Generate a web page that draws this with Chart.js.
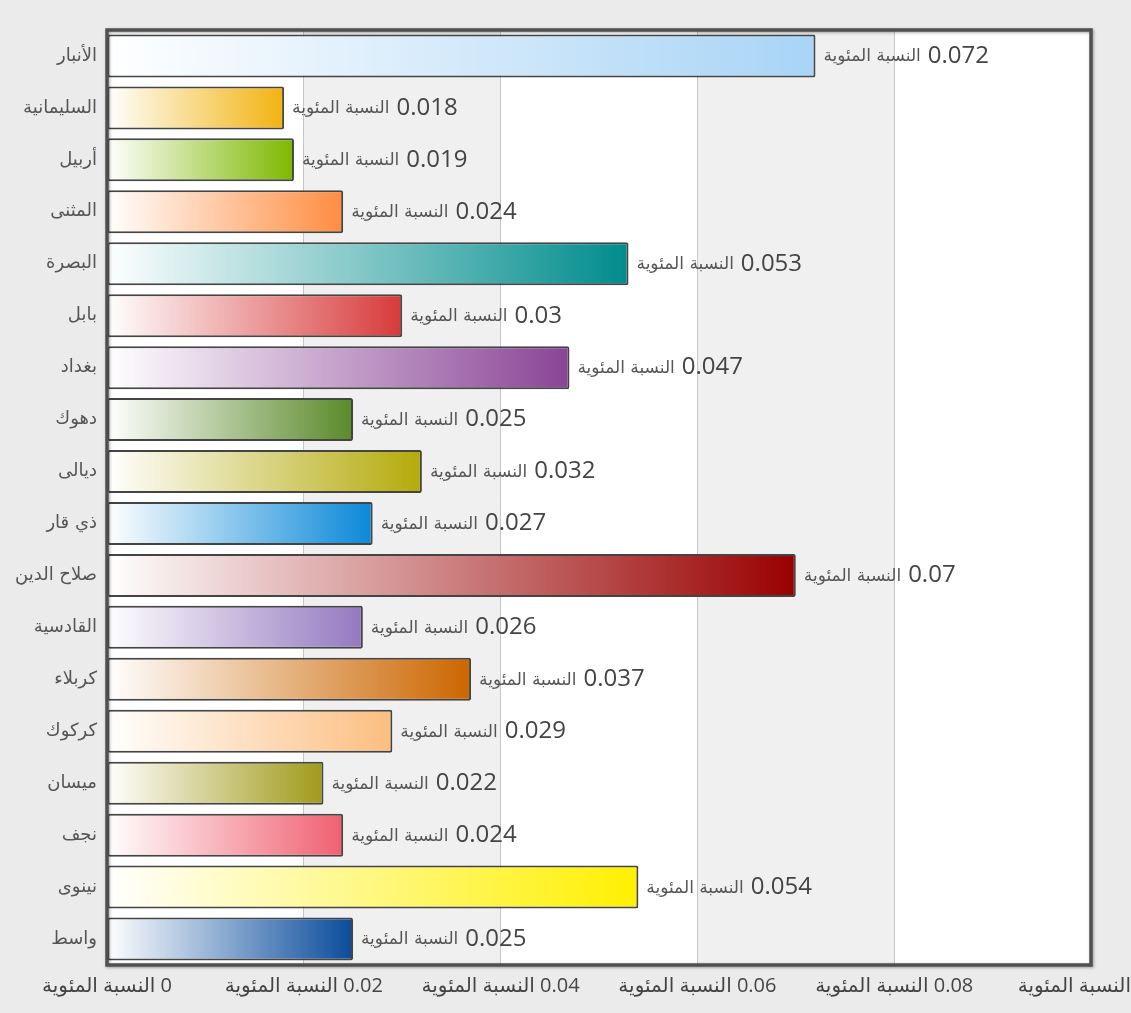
<!DOCTYPE html>
<html><head><meta charset="utf-8">
<script src="https://cdn.jsdelivr.net/npm/chart.js@4/dist/chart.umd.min.js"></script>
<style>html,body{margin:0;padding:0;background:#ebebeb;}#wrap{width:1131px;height:1013px;position:relative;}</style>
</head><body><div id="wrap"><canvas id="c"></canvas></div>
<script>
const categories = ['الأنبار','السليمانية','أربيل','المثنى','البصرة','بابل','بغداد','دهوك','ديالى','ذي قار','صلاح الدين','القادسية','كربلاء','كركوك','ميسان','نجف','نينوى','واسط'];
const values = [0.072,0.018,0.019,0.024,0.053,0.03,0.047,0.025,0.032,0.027,0.07,0.026,0.037,0.029,0.022,0.024,0.054,0.025];
const barColors = ['#a8d4f6','#f2b310','#7db800','#ff8c40','#008c8c','#d83a3a','#8a4496','#5a8a2a','#b4aa0a','#0a88d8','#990000','#9478c0','#cc6600','#fcbe80','#a09a1a','#f06070','#fff000','#0a4c9c'];
const xTicks = [0,0.02,0.04,0.06,0.08,0.1];
const unitLabel = 'النسبة المئوية';

const bandsPlugin = {
  id:'bands',
  beforeDraw(chart){
    const {ctx, chartArea:a, scales:{x}} = chart;
    ctx.save();
    ctx.fillStyle='#ffffff';
    ctx.fillRect(a.left,a.top,a.right-a.left,a.bottom-a.top);
    ctx.fillStyle='#f0f0f0';
    for(let i=0;i<xTicks.length-1;i++){
      if(i%2===1){
        const x0=x.getPixelForValue(xTicks[i]), x1=x.getPixelForValue(xTicks[i+1]);
        ctx.fillRect(x0,a.top,x1-x0,a.bottom-a.top);
      }
    }
    ctx.restore();
  },
  afterDatasetsDraw(chart){
    const {ctx, chartArea:a} = chart;
    ctx.save();
    ctx.shadowColor='rgba(0,0,0,0.35)';
    ctx.shadowBlur=3; ctx.shadowOffsetX=1; ctx.shadowOffsetY=1;
    ctx.strokeStyle='#505050'; ctx.lineWidth=3.5;
    ctx.strokeRect(a.left,a.top,a.right-a.left,a.bottom-a.top);
    ctx.restore();
    const meta = chart.getDatasetMeta(0);
    ctx.save();
    ctx.textBaseline='middle'; ctx.textAlign='left';
    meta.data.forEach((el,i)=>{
      let px = el.x + 8;
      ctx.font="17px 'DejaVu Sans'"; ctx.fillStyle='#555';
      ctx.fillText(unitLabel, px, el.y+1);
      px += ctx.measureText(unitLabel).width + 7;
      ctx.font="24px 'Open Sans'"; ctx.fillStyle='#444';
      ctx.fillText(String(values[i]), px, el.y);
    });
    ctx.restore();
  }
};

new Chart(document.getElementById('c'),{
  type:'bar',
  data:{labels:categories,datasets:[{
    data:values,
    backgroundColor:(ctx)=>{
      const chart=ctx.chart; const x=chart.scales.x;
      if(!x || ctx.dataIndex===undefined) return barColors[0];
      const x0=x.getPixelForValue(0), x1=x.getPixelForValue(values[ctx.dataIndex]);
      if(!isFinite(x0)||!isFinite(x1)||x1<=x0) return barColors[ctx.dataIndex];
      const g=chart.ctx.createLinearGradient(x0,0,x1,0);
      g.addColorStop(0,'#ffffff'); g.addColorStop(1,barColors[ctx.dataIndex]);
      return g;
    },
    borderColor:'#444',borderWidth:2,borderSkipped:false,borderRadius:2,
    barPercentage:0.92,categoryPercentage:0.9
  }]},
  options:{
    indexAxis:'y',responsive:true,maintainAspectRatio:false,animation:false,
    layout:{padding:{top:30,right:40,left:0,bottom:0}},
    plugins:{legend:{display:false},tooltip:{enabled:false}},
    scales:{
      x:{min:0,max:0.1,
        afterBuildTicks:(s)=>{s.ticks=xTicks.map(v=>({value:v}));},
        afterFit:(s)=>{s.paddingRight=0; s.paddingLeft=0; s.height=48;},
        grid:{color:(c)=>(c.tick && (c.tick.value===0||c.tick.value===0.1))?'rgba(0,0,0,0)':'#c6c6c6',lineWidth:1,drawTicks:false},
        border:{display:false},
        ticks:{autoSkip:false,maxRotation:0,padding:9,color:'#444',font:{family:"'Open Sans','DejaVu Sans'",size:20},
          callback:(v)=>unitLabel+'\u200E '+v}
      },
      y:{
        afterFit:(s)=>{s.width=107;},
        grid:{display:false,drawTicks:false},border:{display:false},
        ticks:{padding:10,color:'#555',font:{family:"'DejaVu Sans'",size:18}}
      }
    }
  },
  plugins:[bandsPlugin]
});
</script></body></html>
